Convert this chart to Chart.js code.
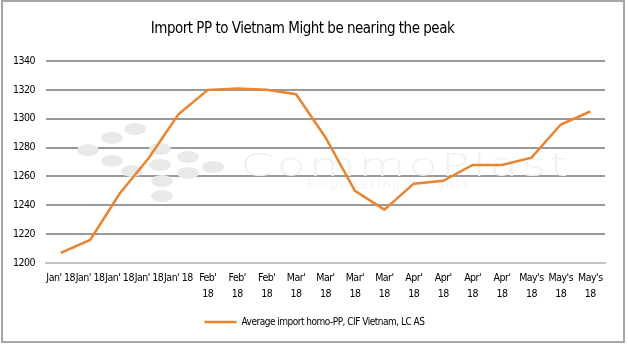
<!DOCTYPE html>
<html>
<head>
<meta charset="utf-8">
<script src="https://cdn.jsdelivr.net/npm/chart.js@4.4.1/dist/chart.umd.min.js"></script>
<style>
  html, body { margin: 0; padding: 0; background: #fff; }
  #wrap { position: relative; width: 628px; height: 348px; }
</style>
</head>
<body>
<div id="wrap"><canvas id="chart" width="628" height="348"></canvas></div>
<script>
// monthly labels, two-line where they wrap
var categories = [
  "Jan' 18", "Jan' 18", "Jan' 18", "Jan' 18", "Jan' 18",
  ["Feb'", "18"], ["Feb'", "18"], ["Feb'", "18"],
  ["Mar'", "18"], ["Mar'", "18"], ["Mar'", "18"], ["Mar'", "18"],
  ["Apr'", "18"], ["Apr'", "18"], ["Apr'", "18"], ["Apr'", "18"],
  ["May's", "18"], ["May's", "18"], ["May's", "18"]
];
var importPrices = [1207, 1216, 1248, 1273, 1303, 1320, 1321, 1320, 1317, 1287, 1250, 1237, 1255, 1257, 1268, 1268, 1273, 1296, 1305];
var yTicks = [1200, 1220, 1240, 1260, 1280, 1300, 1320, 1340];

var font = "'DejaVu Sans Condensed', 'DejaVu Sans', sans-serif";

// tighter text so the labels sit close together
function tighten(chart) { chart.ctx.letterSpacing = "-0.5px"; }

// grey frame and faint logo behind the plot
var backdrop = {
  id: "backdrop",
  beforeUpdate: tighten,
  afterLayout: function (chart) {
    // centre the legend on the whole frame rather than the padded area
    chart.legend.left += 12;
    chart.legend.right += 12;
  },
  beforeDraw: function (chart) {
    tighten(chart);
    var c = chart.ctx;
    c.save();
    c.fillStyle = "#fff";
    c.fillRect(0, 0, chart.width, chart.height);
    c.strokeStyle = "#a6a6a6";
    c.lineWidth = 2;
    c.strokeRect(2, 1, 622, 341);
    c.restore();
  },
  beforeDatasetsDraw: function (chart) {
    var c = chart.ctx;
    c.save();
    c.fillStyle = "#e8eae8";
    var dots = [[135, 129], [112, 138], [88, 150], [112, 161], [160, 149], [188, 157],
                [132, 171], [160, 165], [188, 173], [213, 167], [162, 181], [162, 196]];
    dots.forEach(function (d) {
      c.beginPath();
      c.ellipse(d[0], d[1], 11, 6, 0, 0, Math.PI * 2);
      c.fill();
    });
    c.fillStyle = "#eff1ef";
    c.textBaseline = "alphabetic";
    c.save();
    c.translate(240, 176);
    c.scale(1.5, 1);
    c.letterSpacing = "2px";
    c.font = "200 32px 'DejaVu Sans', sans-serif";
    c.fillText("CommoPlast", 0, 0);
    c.restore();
    c.fillStyle = "#f2f3f2";
    c.letterSpacing = "2px";
    c.font = "12px 'DejaVu Sans', sans-serif";
    c.fillText("Empowering Insights", 307, 188);
    c.restore();
  }
};

new Chart(document.getElementById("chart"), {
  type: "line",
  data: {
    labels: categories,
    datasets: [{
      label: "Average import homo-PP, CIF Vietnam, LC AS",
      data: importPrices,
      borderColor: "#ea8430",
      backgroundColor: "#ea8430",
      borderWidth: 2.5,
      pointRadius: 0,
      tension: 0
    }]
  },
  options: {
    responsive: false,
    animation: false,
    layout: { padding: { left: 0, right: 23, top: 4, bottom: 11 } },
    plugins: {
      title: {
        display: true,
        text: "Import PP to Vietnam Might be nearing the peak",
        color: "#000",
        font: { family: font, size: 15, weight: "normal" },
        padding: { top: 16, bottom: 23 }
      },
      legend: {
        position: "bottom",
        labels: {
          color: "#000",
          font: { family: font, size: 10 },
          usePointStyle: true,
          pointStyle: "line",
          pointStyleWidth: 32,
          padding: 6
        }
      },
      tooltip: { enabled: false }
    },
    scales: {
      x: {
        offset: true,
        grid: { display: false, drawTicks: false },
        border: { color: "#c4c4c4", width: 2 },
        ticks: {
          color: "#000",
          autoSkip: false,
          maxRotation: 0,
          minRotation: 0,
          padding: 8,
          font: { family: font, size: 10.5, lineHeight: 1.45 }
        },
        afterFit: function (s) { s.height = 48; }
      },
      y: {
        min: 1200,
        max: 1340,
        afterBuildTicks: function (s) { s.ticks = yTicks.map(function (v) { return { value: v }; }); },
        grid: { color: "#999", lineWidth: 2, drawTicks: false },
        border: { display: false },
        ticks: {
          color: "#000",
          padding: 11,
          font: { family: font, size: 10.5 },
          callback: function (v) { return String(v); }
        },
        afterFit: function (s) { s.width = 46; }
      }
    }
  },
  plugins: [backdrop]
});
</script>
</body>
</html>
